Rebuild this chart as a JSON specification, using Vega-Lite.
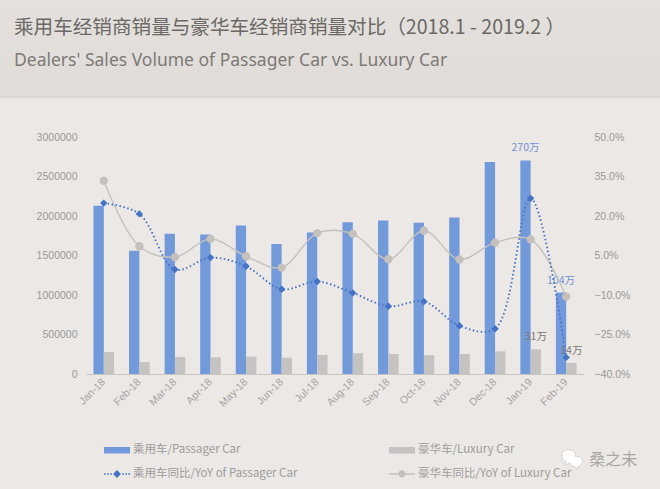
{
  "$schema": "https://vega.github.io/schema/vega-lite/v6.json",
  "background": "#ebe8e6",
  "padding": {"left": 0, "top": 0, "right": 0, "bottom": 10},
  "spacing": 33,
  "config": {"view": {"stroke": null}},
  "datasets": {
    "sales": [
      {"month": "Jan-18", "series": "乘用车/Passager Car", "value": 2129000},
      {"month": "Feb-18", "series": "乘用车/Passager Car", "value": 1559000},
      {"month": "Mar-18", "series": "乘用车/Passager Car", "value": 1775000},
      {"month": "Apr-18", "series": "乘用车/Passager Car", "value": 1766000},
      {"month": "May-18", "series": "乘用车/Passager Car", "value": 1880000},
      {"month": "Jun-18", "series": "乘用车/Passager Car", "value": 1644000},
      {"month": "Jul-18", "series": "乘用车/Passager Car", "value": 1791000},
      {"month": "Aug-18", "series": "乘用车/Passager Car", "value": 1922000},
      {"month": "Sep-18", "series": "乘用车/Passager Car", "value": 1943000},
      {"month": "Oct-18", "series": "乘用车/Passager Car", "value": 1914000},
      {"month": "Nov-18", "series": "乘用车/Passager Car", "value": 1981000},
      {"month": "Dec-18", "series": "乘用车/Passager Car", "value": 2683000},
      {"month": "Jan-19", "series": "乘用车/Passager Car", "value": 2704000, "label": "270万"},
      {"month": "Feb-19", "series": "乘用车/Passager Car", "value": 1031000, "label": "104万"},
      {"month": "Jan-18", "series": "豪华车/Luxury Car", "value": 279000},
      {"month": "Feb-18", "series": "豪华车/Luxury Car", "value": 152000},
      {"month": "Mar-18", "series": "豪华车/Luxury Car", "value": 215000},
      {"month": "Apr-18", "series": "豪华车/Luxury Car", "value": 211000},
      {"month": "May-18", "series": "豪华车/Luxury Car", "value": 220000},
      {"month": "Jun-18", "series": "豪华车/Luxury Car", "value": 207000},
      {"month": "Jul-18", "series": "豪华车/Luxury Car", "value": 241000},
      {"month": "Aug-18", "series": "豪华车/Luxury Car", "value": 262000},
      {"month": "Sep-18", "series": "豪华车/Luxury Car", "value": 253000},
      {"month": "Oct-18", "series": "豪华车/Luxury Car", "value": 237000},
      {"month": "Nov-18", "series": "豪华车/Luxury Car", "value": 253000},
      {"month": "Dec-18", "series": "豪华车/Luxury Car", "value": 287000},
      {"month": "Jan-19", "series": "豪华车/Luxury Car", "value": 313000, "label": "31万"},
      {"month": "Feb-19", "series": "豪华车/Luxury Car", "value": 140000, "label": "14万"}
    ],
    "yoy": [
      {"month": "Jan-18", "series": "乘用车同比/YoY of Passager Car", "pct": 24.9},
      {"month": "Feb-18", "series": "乘用车同比/YoY of Passager Car", "pct": 20.8},
      {"month": "Mar-18", "series": "乘用车同比/YoY of Passager Car", "pct": -0.3},
      {"month": "Apr-18", "series": "乘用车同比/YoY of Passager Car", "pct": 4.2},
      {"month": "May-18", "series": "乘用车同比/YoY of Passager Car", "pct": 0.9},
      {"month": "Jun-18", "series": "乘用车同比/YoY of Passager Car", "pct": -7.8},
      {"month": "Jul-18", "series": "乘用车同比/YoY of Passager Car", "pct": -4.9},
      {"month": "Aug-18", "series": "乘用车同比/YoY of Passager Car", "pct": -9.2},
      {"month": "Sep-18", "series": "乘用车同比/YoY of Passager Car", "pct": -14.3},
      {"month": "Oct-18", "series": "乘用车同比/YoY of Passager Car", "pct": -12.5},
      {"month": "Nov-18", "series": "乘用车同比/YoY of Passager Car", "pct": -21.7},
      {"month": "Dec-18", "series": "乘用车同比/YoY of Passager Car", "pct": -22.8},
      {"month": "Jan-19", "series": "乘用车同比/YoY of Passager Car", "pct": 26.7},
      {"month": "Feb-19", "series": "乘用车同比/YoY of Passager Car", "pct": -33.7},
      {"month": "Jan-18", "series": "豪华车同比/YoY of Luxury Car", "pct": 33.4},
      {"month": "Feb-18", "series": "豪华车同比/YoY of Luxury Car", "pct": 8.5},
      {"month": "Mar-18", "series": "豪华车同比/YoY of Luxury Car", "pct": 4.4},
      {"month": "Apr-18", "series": "豪华车同比/YoY of Luxury Car", "pct": 11.3},
      {"month": "May-18", "series": "豪华车同比/YoY of Luxury Car", "pct": 4.7},
      {"month": "Jun-18", "series": "豪华车同比/YoY of Luxury Car", "pct": 0.4},
      {"month": "Jul-18", "series": "豪华车同比/YoY of Luxury Car", "pct": 13.5},
      {"month": "Aug-18", "series": "豪华车同比/YoY of Luxury Car", "pct": 13.2},
      {"month": "Sep-18", "series": "豪华车同比/YoY of Luxury Car", "pct": 3.6},
      {"month": "Oct-18", "series": "豪华车同比/YoY of Luxury Car", "pct": 14.4},
      {"month": "Nov-18", "series": "豪华车同比/YoY of Luxury Car", "pct": 3.5},
      {"month": "Dec-18", "series": "豪华车同比/YoY of Luxury Car", "pct": 9.9},
      {"month": "Jan-19", "series": "豪华车同比/YoY of Luxury Car", "pct": 11.1},
      {"month": "Feb-19", "series": "豪华车同比/YoY of Luxury Car", "pct": -10.6}
    ]
  },
  "vconcat": [
    {
      "width": 660,
      "height": 99,
      "title": {
        "text": "乘用车经销商销量与豪华车经销商销量对比（2018.1 - 2019.2 ）",
        "subtitle": "Dealers' Sales Volume of Passager Car vs. Luxury Car",
        "anchor": "start",
        "frame": "group",
        "orient": "top",
        "offset": -70,
        "dx": 14,
        "font": "Noto Sans CJK SC",
        "fontSize": 19.6,
        "fontWeight": "normal",
        "color": "#6b6865",
        "subtitleFont": "Noto Sans",
        "subtitleFontSize": 17.5,
        "subtitleColor": "#7d7a77",
        "subtitlePadding": 13
      },
      "data": {"values": [{"band": "header"}]},
      "mark": {
        "type": "rect",
        "fill": {
          "x1": 0, "y1": 0, "x2": 0, "y2": 1,
          "gradient": "linear",
          "stops": [
            {"offset": 0, "color": "#e3e0dd"},
            {"offset": 0.96, "color": "#e1dcd8"},
            {"offset": 0.98, "color": "#d8d3cd"},
            {"offset": 1, "color": "#ebe8e6"}
          ]
        }
      }
    },
    {
      "width": 660,
      "height": 237,
      "layer": [
        {
          "data": {"name": "sales"},
          "mark": {"type": "bar"},
          "encoding": {
            "x": {
              "field": "month",
              "type": "nominal",
              "sort": null,
              "scale": {"range": [86, 584], "paddingInner": 0.42, "paddingOuter": 0.21},
              "axis": {
                "title": null,
                "labelAngle": -45,
                "labelAlign": "right",
                "labelBaseline": "middle",
                "labelColor": "#a8a5a3",
                "labelFont": "Liberation Sans",
                "labelFontSize": 10.5,
                "labelPadding": 6,
                "ticks": false,
                "domainColor": "#c9c5c1",
                "domainWidth": 1.2
              }
            },
            "xOffset": {
              "field": "series",
              "type": "nominal",
              "sort": ["乘用车/Passager Car", "豪华车/Luxury Car"],
              "scale": {"paddingInner": 0, "paddingOuter": 0}
            },
            "y": {
              "field": "value",
              "type": "quantitative",
              "scale": {"domain": [0, 3000000], "nice": false},
              "axis": {
                "title": null,
                "offset": -86,
                "values": [0, 500000, 1000000, 1500000, 2000000, 2500000, 3000000],
                "format": "d",
                "labelColor": "#9c9997",
                "labelFont": "Liberation Sans",
                "labelFontSize": 10.5,
                "labelPadding": 9,
                "ticks": false,
                "domain": false,
                "grid": false
              }
            },
            "color": {
              "field": "series",
              "type": "nominal",
              "scale": {
                "domain": ["乘用车/Passager Car", "乘用车同比/YoY of Passager Car", "豪华车/Luxury Car", "豪华车同比/YoY of Luxury Car"],
                "range": ["#7299d9", "#4472c4", "#c4c3c2", "#c4c1bd"]
              },
              "legend": {
                "title": null,
                "orient": "none",
                "legendX": 104,
                "legendY": 437,
                "columns": 2,
                "columnPadding": 91,
                "rowPadding": 5,
                "gridAlign": "all",
                "symbolSize": 676,
                "symbolStrokeWidth": 0,
                "labelFont": "Noto Sans CJK SC",
                "labelFontSize": 11.5,
                "labelColor": "#a09d9b",
                "labelOffset": 3,
                "labelLimit": 300,
                "encode": {
                  "symbols": {
                    "update": {
                      "opacity": {"value": 1},
                      "strokeWidth": {"value": 0},
                      "fill": {"signal": "indexof(datum.value, '同比') < 0 ? (indexof(datum.value, '乘用车') == 0 ? '#7299d9' : '#c4c3c2') : (indexof(datum.value, '乘用车') == 0 ? '#4472c4' : '#c4c1bd')"},
                      "shape": {"signal": "indexof(datum.value, '同比') < 0 ? 'M-1,-0.25H1V0.25H-1Z' : (indexof(datum.value, '乘用车') == 0 ? 'M-1,-0.06H-0.88V0.06H-1ZM-0.76,-0.06H-0.64V0.06H-0.76ZM-0.52,-0.06H-0.4V0.06H-0.52ZM0,-0.3L0.3,0L0,0.3L-0.3,0ZM0.4,-0.06H0.52V0.06H0.4ZM0.64,-0.06H0.76V0.06H0.64ZM0.88,-0.06H1V0.06H0.88Z' : 'M-1,-0.05H1V0.05H-1ZM-0.28,0A0.28,0.28,0,1,1,0.28,0A0.28,0.28,0,1,1,-0.28,0Z')"}
                    }
                  }
                }
              }
            }
          }
        },
        {
          "data": {"name": "sales"},
          "transform": [{"filter": "datum.label != null"}],
          "mark": {"type": "text", "baseline": "middle", "dy": -12, "font": "Noto Sans CJK SC", "fontSize": 10.5},
          "encoding": {
            "x": {"field": "month", "type": "nominal", "sort": null},
            "xOffset": {
              "field": "series",
              "type": "nominal",
              "sort": ["乘用车/Passager Car", "豪华车/Luxury Car"],
              "scale": {"paddingInner": 0, "paddingOuter": 0}
            },
            "y": {
              "field": "value",
              "type": "quantitative",
              "scale": {"domain": [0, 3000000], "nice": false},
              "axis": null
            },
            "text": {"field": "label"},
            "color": {
              "condition": {"test": "indexof(datum.series, '乘用车') == 0", "value": "#6f94d0"},
              "value": "#7a7876"
            }
          }
        },
        {
          "data": {"name": "yoy"},
          "transform": [{"filter": "indexof(datum.series, '豪华车') == 0"}],
          "mark": {"type": "line", "interpolate": "catmull-rom", "strokeWidth": 1.4},
          "encoding": {
            "x": {"field": "month", "type": "nominal", "sort": null},
            "y": {
              "field": "pct",
              "type": "quantitative",
              "scale": {"domain": [-40, 50], "nice": false},
              "axis": {
                "title": null,
                "orient": "right",
                "offset": -76,
                "values": [-40, -25, -10, 5, 20, 35, 50],
                "labelExpr": "format(datum.value, '.1f') + '%'",
                "labelColor": "#9c9997",
                "labelFont": "Liberation Sans",
                "labelFontSize": 10.5,
                "labelPadding": 10,
                "ticks": false,
                "domain": false,
                "grid": false
              }
            },
            "color": {"field": "series", "type": "nominal"}
          }
        },
        {
          "data": {"name": "yoy"},
          "transform": [{"filter": "indexof(datum.series, '豪华车') == 0"}],
          "mark": {"type": "point", "filled": true, "shape": "circle", "size": 70, "opacity": 1},
          "encoding": {
            "x": {"field": "month", "type": "nominal", "sort": null},
            "y": {
              "field": "pct",
              "type": "quantitative",
              "scale": {"domain": [-40, 50], "nice": false},
              "axis": null
            },
            "color": {"field": "series", "type": "nominal"}
          }
        },
        {
          "data": {"name": "yoy"},
          "transform": [{"filter": "indexof(datum.series, '乘用车') == 0"}],
          "mark": {"type": "line", "interpolate": "catmull-rom", "strokeWidth": 1.9, "strokeDash": [1.5, 2.5]},
          "encoding": {
            "x": {"field": "month", "type": "nominal", "sort": null},
            "y": {
              "field": "pct",
              "type": "quantitative",
              "scale": {"domain": [-40, 50], "nice": false},
              "axis": null
            },
            "color": {"field": "series", "type": "nominal"}
          }
        },
        {
          "data": {"name": "yoy"},
          "transform": [{"filter": "indexof(datum.series, '乘用车') == 0"}],
          "mark": {"type": "point", "filled": true, "shape": "diamond", "size": 55, "opacity": 1},
          "encoding": {
            "x": {"field": "month", "type": "nominal", "sort": null},
            "y": {
              "field": "pct",
              "type": "quantitative",
              "scale": {"domain": [-40, 50], "nice": false},
              "axis": null
            },
            "color": {"field": "series", "type": "nominal"}
          }
        },
        {
          "data": {"values": [{"month": "Feb-19", "mark": "桑之未"}]},
          "mark": {"type": "text", "dx": 47, "font": "Noto Sans CJK SC", "fontSize": 16, "fontWeight": "normal", "color": "#a9a6a4"},
          "encoding": {
            "x": {"field": "month", "type": "nominal", "sort": null},
            "y": {"datum": -1088000, "type": "quantitative", "scale": {"domain": [0, 3000000], "nice": false, "clamp": false}, "axis": null},
            "text": {"field": "mark"}
          }
        },
        {
          "data": {"values": [{"month": "Feb-19"}]},
          "mark": {
            "type": "point",
            "filled": true,
            "xOffset": 6,
            "size": 500,
            "opacity": 1,
            "color": "#ffffff",
            "stroke": "#b9b6b3",
            "strokeWidth": 0.5,
            "shape": "M-0.9,-0.2A0.62,0.52,0,1,1,0.3,-0.25A0.5,0.42,0,0,1,0.9,0.25A0.5,0.42,0,0,1,0.5,0.65L0.55,0.9L0.25,0.68A0.5,0.42,0,0,1,-0.2,0.3L-0.65,0.55L-0.55,0.22A0.6,0.5,0,0,1,-0.9,-0.2Z"
          },
          "encoding": {
            "x": {"field": "month", "type": "nominal", "sort": null},
            "y": {"datum": -1080000, "type": "quantitative", "scale": {"domain": [0, 3000000], "nice": false}, "axis": null}
          }
        }
      ],
      "resolve": {"scale": {"y": "independent"}}
    }
  ]
}
